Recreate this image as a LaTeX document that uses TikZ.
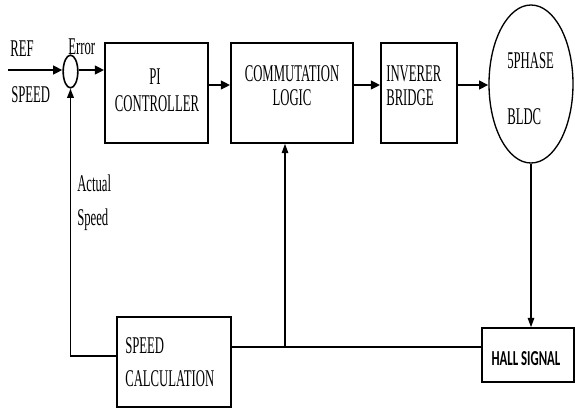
\documentclass[tikz,border=0pt]{standalone}
\usepackage{fontspec}
\usetikzlibrary{arrows.meta,shapes.geometric}
\newfontfamily\tnrcond[FakeStretch=0.53]{Liberation Serif}
\newfontfamily\calcond[FakeStretch=0.6]{Carlito}
\begin{document}
\begin{tikzpicture}[x=0.75pt,y=-0.75pt,
  blk/.style={draw, line width=1.3pt, rectangle, inner sep=0pt},
  txt/.style={font=\tnrcond\fontsize{18}{20}\selectfont, inner sep=0pt, anchor=west},
  ctxt/.style={font=\tnrcond\fontsize{18}{20}\selectfont, inner sep=0pt},
  conn/.style={line width=1.6pt, -{Triangle[length=7pt,width=6.5pt]}},
  thinarr/.style={line width=0.8pt, -{Triangle[length=7pt,width=5pt]}}]
\useasboundingbox (0,0) rectangle (575,408);
% blocks
\node[blk, minimum width=77.25pt, minimum height=75pt] (pi) at (156.5,93) {};
\node[blk, minimum width=91.5pt, minimum height=75pt] (comm) at (292,93) {};
\node[blk, minimum width=57pt, minimum height=75pt] (inv) at (419,93) {};
\node[ellipse, draw, line width=1pt, minimum width=63pt, minimum height=118.5pt, inner sep=0pt] (bldc) at (531,84) {};
\node[blk, minimum width=69pt, minimum height=40.5pt] (hall) at (528,355) {};
\node[blk, minimum width=85.5pt, minimum height=67.5pt] (spd) at (174,362) {};
\node[ellipse, draw, line width=1.2pt, minimum width=11pt, minimum height=24.5pt, inner sep=0pt] (sum) at (70.5,71.5) {};
% texts
\node[ctxt] (tpi1) at (155,77) {PI};
\node[ctxt] (tpi2) at (157,104) {CONTROLLER};
\node[ctxt] (tcm1) at (292,74) {COMMUTATION};
\node[ctxt] (tcm2) at (292,98) {LOGIC};
\node[txt] (tin1) at (386,74) {INVERER};
\node[txt] (tin2) at (386,98) {BRIDGE};
\node[txt] (tbl1) at (507,61) {5PHASE};
\node[txt] (tbl2) at (507,117) {BLDC};
\node[txt] (tsp1) at (125,346) {SPEED};
\node[txt] (tsp2) at (125,379) {CALCULATION};
\node[txt] (tref) at (10,49) {REF};
\node[txt] (trsp) at (11,95) {SPEED};
\node[txt] (terr) at (68,47) {Error};
\node[txt] (tact) at (77,183) {Actual};
\node[txt] (tasp) at (77,220) {Speed};
\node[font=\calcond\bfseries\fontsize{16}{18}\selectfont, inner sep=0pt] (thall) at (526,359) {HALL SIGNAL};
% connectors
\coordinate (in) at (8,70);
\draw[conn] (in) -- (sum.west |- in);
\draw[conn] (sum.east |- in) -- (pi.west |- in);
\coordinate (y85) at (0,85);
\draw[conn] (pi.east |- y85) -- (comm.west |- y85);
\draw[conn] (comm.east |- y85) -- (inv.west |- y85);
\draw[conn] (inv.east |- y85) -- (bldc.west |- y85);
\draw[thinarr] (bldc.south) -- (hall.north -| bldc.south);
\coordinate (y347) at (0,347);
\draw[line width=1.3pt] (hall.west |- y347) -- (spd.east |- y347);
\coordinate (tap) at (285,347);
\draw[thinarr] (tap) -- (comm.south -| tap);
\coordinate (y356) at (0,356);
\draw[line width=1.2pt, -{Triangle[length=7pt,width=5pt]}] (spd.west |- y356) -| (sum.south);
\end{tikzpicture}
\end{document}
